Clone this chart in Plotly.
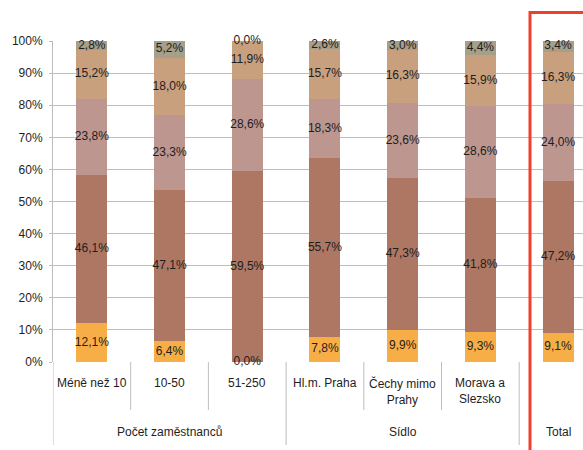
import plotly.graph_objects as go

# Category labels (HTML line breaks for wrapped labels) and their groups
categories = ["Méně než 10", "10-50", "51-250", "Hl.m. Praha",
              "Čechy mimo<br>Prahy", "Morava a<br>Slezsko", ""]
groups = ["Počet zaměstnanců", "Sídlo", "Total"]
group_spans = [(0, 2), (3, 5), (6, 6)]

# Shares in percent, bottom segment first
s1 = [12.1, 6.4, 0.0, 7.8, 9.9, 9.3, 9.1]
s2 = [46.1, 47.1, 59.5, 55.7, 47.3, 41.8, 47.2]
s3 = [23.8, 23.3, 28.6, 18.3, 23.6, 28.6, 24.0]
s4 = [15.2, 18.0, 11.9, 15.7, 16.3, 15.9, 16.3]
s5 = [2.8, 5.2, 0.0, 2.6, 3.0, 4.4, 3.4]
series = [s1, s2, s3, s4, s5]
colors = ["#F7AE47", "#AD7764", "#BD9690", "#C9A07D", "#A69F8A"]

ytick_vals = list(range(0, 101, 10))
ytick_text = [f"{v}%" for v in ytick_vals]

FONT = "Liberation Sans, Arial, sans-serif"
TXT = "#1E1E1E"
GRID = "#BDBDBD"

W, H = 583, 450
ML, MT, MB = 53, 41, 88
plot_h = H - MT - MB
cat_px = 77.7
plot_w = W - ML
x_max = -0.5 + plot_w / cat_px

xs = list(range(len(categories)))
fig = go.Figure()

base = [0.0] * len(xs)
for vals, col in zip(series, colors):
    fig.add_trace(go.Bar(x=xs, y=vals, marker=dict(color=col, line=dict(width=0)),
                         width=0.4, hoverinfo="skip", showlegend=False))
    mids = [b + v / 2 for b, v in zip(base, vals)]
    fig.add_trace(go.Scatter(
        x=xs, y=mids, mode="text",
        text=[f"{v:.1f}".replace(".", ",") + "%" for v in vals],
        textfont=dict(family=FONT, size=12, color=TXT),
        hoverinfo="skip", showlegend=False, cliponaxis=False))
    base = [b + v for b, v in zip(base, vals)]


def py(pixel_y):
    # figure pixel row -> paper coordinate
    return (H - MB - pixel_y) / plot_h


shapes = []
# separators between categories (short) and between groups (long)
group_edges = {-0.5, 2.5, 5.5}
for k in range(len(xs)):
    xb = k - 0.5
    y_end = 445 if xb in group_edges else 410
    shapes.append(dict(type="line", xref="x", yref="paper",
                       x0=xb, x1=xb, y0=0, y1=py(y_end),
                       line=dict(color=GRID, width=1)))

# highlight frame around the total column
shapes.append(dict(type="rect", xref="paper", yref="paper",
                   x0=(530 - ML) / plot_w, x1=1.1, y0=py(460), y1=py(12.5),
                   line=dict(color="#F0402C", width=3), fillcolor="rgba(0,0,0,0)"))

annotations = []
for i, c in enumerate(categories):
    if c:
        annotations.append(dict(x=i, y=py(374), xref="x", yref="paper",
                                text=c, showarrow=False, yanchor="top",
                                font=dict(family=FONT, size=12, color=TXT)))
for g, (a, b) in zip(groups, group_spans):
    annotations.append(dict(x=(a + b) / 2, y=py(432), xref="x", yref="paper",
                            text=g, showarrow=False, yanchor="middle",
                            font=dict(family=FONT, size=12, color=TXT)))

fig.update_layout(
    width=W, height=H, barmode="stack",
    margin=dict(l=ML, r=0, t=MT, b=MB),
    paper_bgcolor="white", plot_bgcolor="white",
    shapes=shapes, annotations=annotations,
    xaxis=dict(range=[-0.5, x_max], showticklabels=False, showgrid=False,
               zeroline=False, showline=False, ticks=""),
    yaxis=dict(range=[0, 100], tickvals=ytick_vals, ticktext=ytick_text,
               showgrid=True, gridcolor=GRID, gridwidth=1, zeroline=False,
               showline=True, linecolor=GRID, linewidth=1,
               ticks="outside", ticklen=3, tickcolor=GRID,
               ticklabelstandoff=4,
               tickfont=dict(family=FONT, size=12, color=TXT)),
)

fig.write_html("out.html")
